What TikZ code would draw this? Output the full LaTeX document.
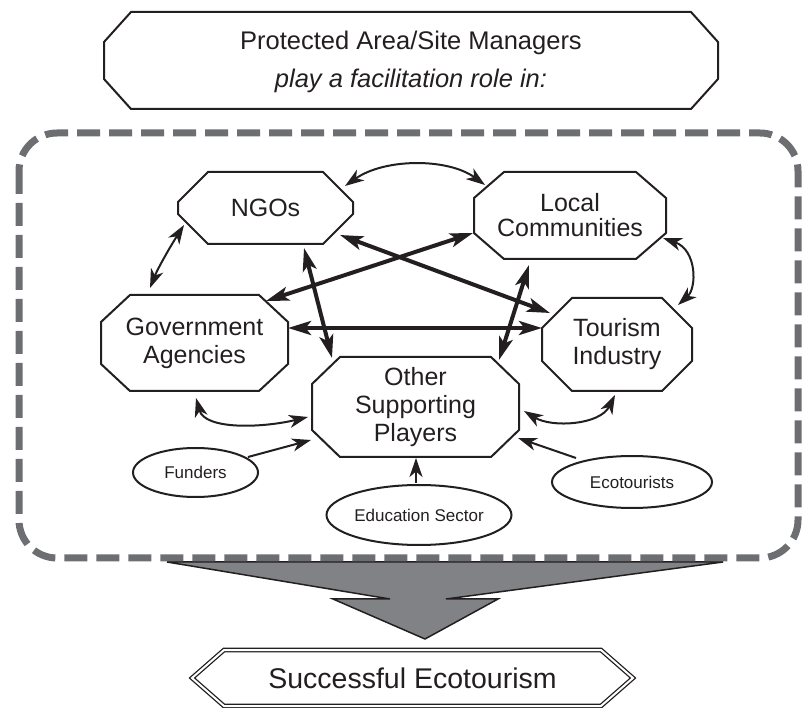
\documentclass[tikz,border=0pt]{standalone}
\usepackage{fontspec}
\setmainfont{Liberation Sans}
\usetikzlibrary{shapes.geometric,arrows.meta,calc}
\definecolor{ink}{HTML}{231F20}
\definecolor{dashgray}{HTML}{6D6E71}
\definecolor{arrowgray}{HTML}{808285}
% octagon drawn round a named rectangular node: name, x-chamfer, y-chamfer
\newcommand\octframe[3]{%
  \draw[boxline] ($(#1.north west)+(#2,0)$) -- ($(#1.north east)+(-#2,0)$)
    -- ($(#1.north east)+(0,#3)$) -- ($(#1.south east)+(0,-#3)$)
    -- ($(#1.south east)+(-#2,0)$) -- ($(#1.south west)+(#2,0)$)
    -- ($(#1.south west)+(0,-#3)$) -- ($(#1.north west)+(0,#3)$) -- cycle;}
\begin{document}
\begin{tikzpicture}[x=1pt,y=-1pt,
  boxline/.style={draw=ink, line width=2pt, line join=miter},
  oct/.style={rectangle, inner sep=0pt, outer sep=0pt,
    align=center, text=ink, font=\fontsize{25}{28}\selectfont},
  oval/.style={ellipse, draw=ink, line width=2pt, inner sep=0pt, outer sep=0pt, text=ink,
    font=\fontsize{17}{20}\selectfont},
  bigtip/.tip={Stealth[length=23pt,width=14pt,inset=5.5pt]},
  smalltip/.tip={Stealth[length=19pt,width=13pt,inset=5.5pt]},
  thicklink/.style={draw=ink, line width=4pt, bigtip-bigtip},
  thinlink/.style={draw=ink, line width=2pt, smalltip-smalltip},
  oneway/.style={draw=ink, line width=2pt, -smalltip},
]
\useasboundingbox (0,0) rectangle (804,708);

% big gray funnel arrow
\draw[draw=ink, line width=1.5pt, fill=arrowgray, line join=miter]
  (167,562) -- (723,562) -- (446,599) -- (498,599) -- (425,639)
  -- (333,599) -- (390,599) -- cycle;

% dashed frame
\draw[dashgray, line width=7pt, dash pattern=on 23pt off 9pt, rounded corners=38pt]
  (19,133) rectangle (798,558);

% top box
\node[oct, minimum width=614pt, minimum height=97pt,
  font=\fontsize{25.5}{38}\selectfont] (top) at (411,62)
  {Protected Area/Site Managers\\\textit{play a facilitation role in:}};
\draw[boxline] ($(top.north west)+(27,-1.5)$) -- ($(top.north east)+(-27,-1.5)$)
  -- ($(top.north east)+(0,28.5)$) -- ($(top.south east)+(0,-31.5)$)
  -- ($(top.south east)+(-27,-1.5)$) -- ($(top.south west)+(27,-1.5)$)
  -- ($(top.south west)+(0,-31.5)$) -- ($(top.north west)+(0,28.5)$) -- cycle;

% actor octagons
\node[oct, minimum width=175pt, minimum height=72pt] (ngo) at (265.5,208) {NGOs};
\octframe{ngo}{30}{30}
\node[oct, minimum width=192pt, minimum height=87pt,
  font=\fontsize{25}{25}\selectfont] (loc) at (570,215.5) {Local\\Communities};
\octframe{loc}{30}{26}
\node[oct, minimum width=187pt, minimum height=96pt] (gov) at (194.5,343) {Government\\Agencies};
\octframe{gov}{29}{27}
\node[oct, minimum width=150pt, minimum height=93pt] (tour) at (617,344.5) {Tourism\\Industry};
\octframe{tour}{30}{30}
\node[oct, minimum width=207pt, minimum height=100pt] (oth) at (415.5,407) {Other\\Supporting\\Players};
\octframe{oth}{28}{27}

% supporting ellipses
\node[oval, minimum width=125pt, minimum height=49pt] (fund) at (195.5,472.5) {Funders};
\node[oval, minimum width=185pt, minimum height=60pt] (edu) at (419,515) {Education Sector};
\node[oval, minimum width=160pt, minimum height=52pt] (eco) at (632,482) {Ecotourists};

% result box
\node[oct, minimum width=441pt, minimum height=56pt,
  font=\fontsize{28.5}{30}\selectfont] (succ) at (412.5,678) {Successful Ecotourism};
\draw[draw=ink, line width=1.3pt, double=white, double distance=2pt, line join=miter]
  ($(succ.north west)+(32,0)$) -- ($(succ.north east)+(-32,0)$) -- (succ.east)
  -- ($(succ.south east)+(-32,0)$) -- ($(succ.south west)+(32,0)$) -- (succ.west) -- cycle;

% thick straight links
\draw[thicklink] ($(gov)+(93.5,-15)$) -- ($(tour)+(-75,-16.5)$);
\draw[thicklink] ($(gov)+(71.5,-42)$) -- ($(loc)+(-97,17.5)$);
\draw[thicklink] ($(ngo)+(74.5,27)$) -- ($(tour)+(-67,-31.5)$);
\draw[thicklink] ($(ngo)+(38.5,40)$) -- ($(oth)+(-83.5,-49)$);
\draw[thicklink] ($(loc)+(-41,49.5)$) -- ($(oth)+(83.5,-47)$);

% thin curved links
\draw[thinlink] ($(ngo)+(79.5,-22)$) .. controls (385,158) and (448,158) .. ($(loc)+(-85,-30.5)$);
\draw[thinlink] ($(ngo)+(-81.5,17)$) .. controls (170,247) and (158,268) .. ($(gov)+(-44.5,-55)$);
\draw[thinlink] ($(loc)+(93,22.5)$) .. controls (697,250) and (697,288) .. ($(tour)+(61,-39.5)$);
\draw[thinlink] ($(gov)+(1.5,55)$) .. controls (205,430) and (262,428) .. ($(oth)+(-107.5,10)$);
\draw[thinlink] ($(oth)+(108.5,4)$) .. controls (552,428) and (600,425) .. ($(tour)+(-2,50.5)$);

% single arrows
\draw[oneway] ($(fund)+(52.5,-15.5)$) -- ($(oth)+(-104.5,33)$);
\draw[oneway] ($(edu)+(-3,-32)$) -- ($(oth)+(0.5,51)$);
\draw[oneway] ($(eco)+(-56,-24)$) -- ($(oth)+(102.5,31)$);
\end{tikzpicture}
\end{document}
